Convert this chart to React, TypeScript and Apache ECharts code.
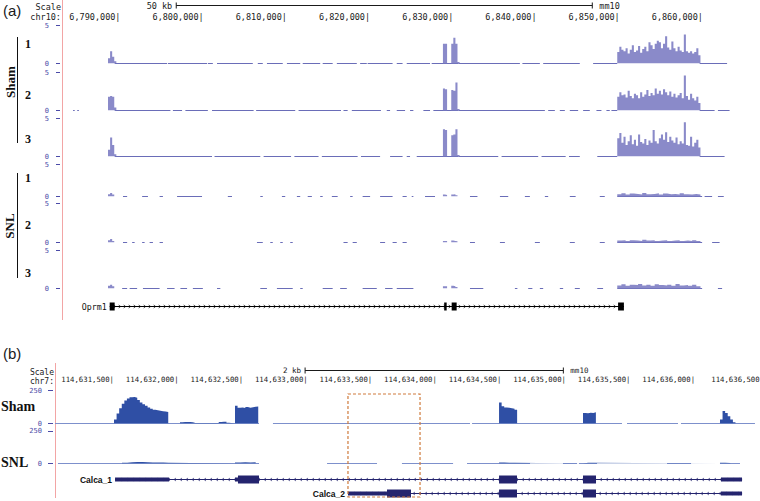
import React, { useEffect, useRef } from "react";
import * as echarts from "echarts";

// ================= Panel (a): chr10, positions in kb =================
const A_MIN = 6782.97;
const A_MAX = 6863.25;
const A_TICKS = [6790, 6800, 6810, 6820, 6830, 6840, 6850, 6860];
const A_SCALE_BAR = [6796.7, 6846.7]; // 50 kb
const A_Y_MAX = 5;

const A_PEAK1_START = 6788.5;
const A_PEAKS_START = 6828.75;
const A_BROAD_START = 6849.7;
const A_BIN = 0.25;
const A_SNL_BIN = 0.5;

const sham1Peak1 = [0.7, 1.6, 0.9, 0.3];
const sham2Peak1 = [1.8, 1.9, 1.8, 0.4];
const sham3Peak1 = [0.9, 2.5, 1.5, 0.3];

const sham1Peaks = [2.6, 2.6, 0, 0, 2.6, 3.4, 2.6, 0.2];
const sham2Peaks = [2.9, 2.8, 0, 0, 2.7, 2.6, 3.7, 0.2];
const sham3Peaks = [3.6, 3.5, 0, 0, 2.8, 2.9, 3.6, 0.2];

const sham1Broad = [1.5, 2.2, 1.8, 1.6, 2.0, 1.3, 1.8, 2.4, 1.5, 1.7, 2.3, 1.4, 1.9, 2.2, 1.6, 2.8, 2.4, 1.9, 2.6, 3.0, 2.8, 2.0, 2.6, 3.6, 2.1, 1.8, 2.9, 2.0, 1.6, 2.2, 1.7, 1.5, 3.8, 1.6, 1.4, 1.6, 1.3, 1.5, 2.0, 1.1];
const sham2Broad = [1.8, 2.4, 2.0, 2.1, 1.7, 2.6, 1.9, 1.6, 2.2, 2.0, 1.6, 2.4, 1.8, 2.1, 2.7, 1.9, 2.3, 2.0, 2.9, 2.2, 2.6, 2.1, 2.8, 2.4, 2.0, 2.5, 1.8, 2.2, 1.7, 2.0, 2.3, 1.6, 4.6, 1.9, 1.4, 2.2, 1.6, 1.3, 1.8, 1.0];
const sham3Broad = [2.4, 3.1, 1.8, 2.6, 1.5, 2.0, 2.8, 1.6, 2.2, 1.4, 2.9, 1.9, 1.7, 2.3, 1.5, 2.1, 1.8, 3.5, 2.0, 1.7, 2.4, 2.9, 2.2, 3.2, 1.9, 2.6, 2.1, 1.8, 2.5, 1.6, 2.0, 1.7, 4.5, 1.5, 1.4, 2.6, 1.3, 1.8, 2.2, 1.2];

const snl1Peak1 = [0.35, 0.55, 0.3];
const snl2Peak1 = [0.3, 0.45, 0.2];
const snl3Peak1 = [0.35, 0.5, 0.3];

const snl1Peaks = [0.3, 0.25, 0, 0, 0.3, 0.35, 0.2];
const snl2Peaks = [0.2, 0.2, 0, 0, 0.25, 0.2, 0.15];
const snl3Peaks = [0.3, 0.3, 0, 0, 0.35, 0.3, 0.2];

const snl1Broad = [0.35, 0.5, 0.3, 0.45, 0.4, 0.3, 0.55, 0.35, 0.4, 0.5, 0.3, 0.45, 0.35, 0.4, 0.3, 0.5, 0.35, 0.3, 0.4, 0.3];
const snl2Broad = [0.25, 0.3, 0.2, 0.3, 0.25, 0.2, 0.35, 0.25, 0.3, 0.2, 0.25, 0.3, 0.2, 0.25, 0.3, 0.2, 0.25, 0.2, 0.3, 0.2];
const snl3Broad = [0.4, 0.55, 0.35, 0.5, 0.45, 0.6, 0.4, 0.5, 0.35, 0.55, 0.45, 0.4, 0.5, 0.35, 0.6, 0.4, 0.45, 0.35, 0.5, 0.3];

// low-coverage stretches (drawn as the thin baseline), [start, end] kb
const sham1Base = [[6789.3, 6795.6], [6795.7, 6800.4], [6800.5, 6801.1], [6801.6, 6805.9], [6806.5, 6807.1], [6807.6, 6809.5], [6810.0, 6811.6], [6811.9, 6814.0], [6814.3, 6815.5], [6816.0, 6818.4], [6818.8, 6819.6], [6819.7, 6822.7], [6823.2, 6823.9], [6824.4, 6827.2], [6827.4, 6830.6], [6830.6, 6838.0], [6838.3, 6840.4], [6840.8, 6845.2], [6846.8, 6849.7], [6859.6, 6862.9]];
const sham2Base = [[6784.3, 6784.5], [6784.8, 6785.0], [6789.3, 6796.0], [6796.3, 6797.4], [6797.8, 6800.5], [6801.0, 6806.0], [6806.3, 6811.0], [6811.4, 6816.5], [6816.8, 6817.3], [6817.8, 6821.3], [6822.0, 6822.4], [6823.2, 6824.2], [6824.8, 6825.2], [6826.4, 6827.2], [6827.6, 6830.6], [6830.6, 6841.0], [6841.4, 6842.2], [6842.8, 6843.4], [6844.0, 6845.0], [6845.6, 6846.4], [6847.2, 6847.8], [6848.4, 6848.8], [6849.0, 6849.7], [6859.6, 6861.4], [6861.8, 6863.2]];
const sham3Base = [[6789.3, 6801.0], [6801.3, 6806.8], [6807.2, 6810.5], [6810.9, 6813.8], [6814.2, 6818.5], [6818.9, 6821.2], [6822.4, 6823.9], [6824.4, 6824.8], [6825.6, 6830.6], [6830.6, 6835.4], [6835.8, 6840.2], [6840.6, 6843.5], [6843.9, 6845.2], [6847.3, 6849.7], [6859.6, 6862.6]];
const snl1Base = [[6790.3, 6790.8], [6792.6, 6793.3], [6794.7, 6795.1], [6796.8, 6799.8], [6802.9, 6803.4], [6806.8, 6807.1], [6809.4, 6809.8], [6811.2, 6811.6], [6812.5, 6813.0], [6814.0, 6814.3], [6815.4, 6816.1], [6817.6, 6817.9], [6819.1, 6820.0], [6821.2, 6822.7], [6823.9, 6824.4], [6825.0, 6825.2], [6826.6, 6827.8], [6832.0, 6832.9], [6835.6, 6836.6], [6838.6, 6839.2], [6841.0, 6841.4], [6844.0, 6844.7], [6847.6, 6848.2], [6849.7, 6859.9], [6860.2, 6861.1], [6861.8, 6862.5]];
const snl2Base = [[6790.3, 6790.8], [6791.4, 6791.7], [6792.6, 6792.9], [6793.5, 6793.9], [6794.7, 6795.1], [6806.4, 6807.1], [6808.0, 6808.3], [6809.2, 6809.5], [6810.4, 6810.7], [6816.8, 6817.3], [6817.9, 6818.4], [6821.2, 6821.8], [6822.7, 6823.2], [6823.9, 6824.4], [6832.0, 6832.6], [6835.6, 6836.2], [6839.8, 6840.4], [6844.0, 6844.6], [6847.6, 6848.2], [6849.7, 6859.9], [6861.1, 6862.0]];
const snl3Base = [[6790.2, 6790.8], [6791.1, 6792.0], [6792.7, 6794.7], [6795.6, 6796.5], [6797.2, 6798.0], [6798.7, 6799.9], [6801.6, 6802.0], [6806.8, 6807.6], [6808.8, 6810.7], [6811.6, 6811.9], [6814.3, 6815.5], [6816.4, 6817.2], [6819.1, 6820.8], [6821.8, 6822.7], [6823.2, 6825.2], [6832.0, 6833.6], [6837.4, 6837.7], [6839.0, 6839.5], [6840.4, 6840.8], [6842.8, 6843.2], [6844.6, 6845.2], [6847.3, 6848.0], [6849.7, 6859.9], [6861.8, 6862.3]];

// gene model: [start, end, thick(1)/thin(0)]
const oprm1Exons = [[6788.7, 6789.3, 1], [6828.9, 6829.2, 1], [6829.8, 6830.4, 1], [6849.8, 6850.5, 1]];

// ================= Panel (b): chr7, positions in kb =================
const B_MIN = 114631.043;
const B_MAX = 114636.503;
const B_TICKS = [114631.5, 114632, 114632.5, 114633, 114633.5, 114634, 114634.5, 114635, 114635.5, 114636, 114636.5];
const B_SCALE_BAR = [114632.98, 114634.98]; // 2 kb
const B_Y_MAX = 250;
const B_BIN = 0.02;
const B_SNL_BIN = 0.04;
const B_HIGHLIGHT = [114633.312, 114633.87];

const shamBPeak1 = [30, 75, 115, 150, 175, 190, 198, 200, 195, 178, 160, 145, 135, 122, 112, 105, 100, 96, 92, 90, 88];
const shamBLow = [10, 12, 11, 12, 9, 4, 3, 3, 4, 3, 3, 4, 3, 4, 3, 12, 14, 13, 5];
const shamBExon2 = [135, 120, 122, 118, 125, 120, 123, 126, 128];
const shamBExon3 = [160, 130, 122, 120, 115, 112, 105];
const shamBExon4 = [80, 78, 82, 80, 85];
const shamBExon5 = [30, 95, 80, 55, 30, 10];

const snlBPeak1 = [6, 10, 11, 11, 10, 8, 7, 8, 5];
const snlBExon2 = [8, 9, 8, 9];
const snlBExon3 = [8, 6, 5];
const snlBExon4 = [5, 5];
const snlBExon5 = [6, 4];

const shamBBase = [[114631.043, 114632.623], [114632.731, 114634.257], [114634.273, 114635.434], [114635.473, 114635.868], [114635.891, 114636.464]];
const snlBBase = [[114631.066, 114632.623], [114633.15, 114633.537], [114633.73, 114634.126], [114634.234, 114634.722], [114634.977, 114635.086], [114635.101, 114635.241], [114635.783, 114635.969], [114636.193, 114636.348]];

const calca1Exons = [[114631.508, 114631.926, 0], [114632.437, 114632.46, 0], [114632.46, 114632.623, 1], [114634.482, 114634.621, 1], [114635.132, 114635.233, 1], [114636.201, 114636.364, 0]];
const calca2Exons = [[114633.312, 114633.614, 0], [114633.614, 114633.8, 1], [114634.482, 114634.621, 1], [114635.132, 114635.233, 1], [114636.201, 114636.364, 0]];

// ================= styling =================
const MONO = '"DejaVu Sans Mono", "Liberation Mono", monospace';
const SERIF = '"Liberation Serif", "DejaVu Serif", serif';
const SANS = '"Liberation Sans", Arial, sans-serif';
const Y_LABEL_COLOR = "#4b4ba8";
const A_FILL = "#8a8ac9";
const A_BASE = "#6a6db8";
const B_FILL = "#2f4fa5";
const B_BASE = "#7d90cc";
const B_GENE = "#24246e";
const PINK = "#f2a5a5";

type Region = [number, number, number[]];

function covData(regions: Region[]) {
  const out: number[][] = [];
  for (const [start, bin, vals] of regions) {
    vals.forEach((v, i) => out.push([start + i * bin, v]));
    out.push([start + vals.length * bin, 0]);
  }
  return out;
}

function txt(text: string, x: number, y: number, o: any = {}) {
  const align = o.align || "left";
  return {
    type: "text",
    x,
    y,
    rotation: o.rotation || 0,
    silent: true,
    style: {
      text,
      fill: o.fill || "#1a1a1a",
      fontSize: o.size || 8.5,
      fontFamily: o.family || MONO,
      fontWeight: o.weight || "normal",
      align,
      verticalAlign: "middle",
      textAlign: align,
      textVerticalAlign: "middle",
    },
  };
}

function buildOption() {
  const grid: any[] = [];
  const xAxis: any[] = [];
  const yAxis: any[] = [];
  const series: any[] = [];

  const add = (g: any, x: any, y: any) => {
    const i = grid.length;
    grid.push({ ...g, outerBoundsMode: "none", containLabel: false });
    xAxis.push({ ...x, gridIndex: i });
    yAxis.push({ ...y, gridIndex: i });
    return i;
  };

  const hiddenX = (min: number, max: number) => ({ type: "value", min, max, show: false });
  const hiddenY = (max: number, inverse = false) => ({ type: "value", min: 0, max, inverse, show: false });
  const labelX = (min: number, max: number, ticks: number[], fmt: any, size: number, margin: number) => ({
    type: "value",
    min,
    max,
    position: "bottom",
    axisLine: { show: false },
    axisTick: { show: false },
    splitLine: { show: false },
    axisLabel: { customValues: ticks, formatter: fmt, align: "right", margin, fontFamily: MONO, fontSize: size, color: "#1a1a1a" },
  });
  const trackY = (max: number, tick: number, size: number) => ({
    type: "value",
    min: 0,
    max,
    interval: max,
    offset: 2,
    axisLine: { show: false },
    splitLine: { show: false },
    axisTick: { show: true, length: tick, lineStyle: { color: Y_LABEL_COLOR, width: 1 } },
    axisLabel: { margin: 11, fontFamily: MONO, fontSize: size, color: Y_LABEL_COLOR, padding: [0, 0, 3, 0], showMinLabel: true, showMaxLabel: true },
  });

  const covSeries = (i: number, regions: Region[], color: string) => ({
    type: "line",
    xAxisIndex: i,
    yAxisIndex: i,
    data: covData(regions),
    step: "end",
    showSymbol: false,
    symbol: "none",
    lineStyle: { width: 0, color },
    areaStyle: { color, opacity: 1 },
    silent: true,
    z: 3,
  });
  const baseSeries = (i: number, segs: number[][], color: string) => ({
    type: "lines",
    coordinateSystem: "cartesian2d",
    xAxisIndex: i,
    yAxisIndex: i,
    data: segs.map(([s, e]) => ({ coords: [[s, 0], [e, 0]] })),
    lineStyle: { color, width: 1, opacity: 1 },
    silent: true,
    z: 2,
  });
  const scaleBar = (i: number, bar: number[], label: string, size: number) => ({
    type: "custom",
    xAxisIndex: i,
    yAxisIndex: i,
    clip: false,
    silent: true,
    data: [[bar[0], bar[1]]],
    encode: { x: [0, 1] },
    renderItem: (params: any, api: any) => {
      const a = api.coord([api.value(0), 0.5]);
      const b = api.coord([api.value(1), 0.5]);
      const y = Math.round(a[1]) + 0.5;
      const st = { stroke: "#1a1a1a", lineWidth: 1 };
      return {
        type: "group",
        children: [
          { type: "line", shape: { x1: a[0], y1: y, x2: b[0], y2: y }, style: st },
          { type: "line", shape: { x1: a[0], y1: y - 3, x2: a[0], y2: y + 3 }, style: st },
          { type: "line", shape: { x1: b[0], y1: y - 3, x2: b[0], y2: y + 3 }, style: st },
          txt(label, a[0] - 4, y, { align: "right", size }),
          txt("mm10", b[0] + 7, y, { size }),
        ],
      };
    },
  });
  const geneSeries = (i: number, genes: any[], color: string, o: any) => ({
    type: "custom",
    xAxisIndex: i,
    yAxisIndex: i,
    clip: false,
    silent: true,
    data: genes.map((g, k) => [g.exons[0][0], g.exons[g.exons.length - 1][1], k]),
    encode: { x: [0, 1], y: 2 },
    renderItem: (params: any, api: any) => {
      const g = genes[params.dataIndex];
      const row = api.value(2) + 0.5;
      const p0 = api.coord([api.value(0), row]);
      const p1 = api.coord([api.value(1), row]);
      const yc = Math.round(p0[1]) + 0.5;
      const children: any[] = [];
      children.push({ type: "line", shape: { x1: p0[0], y1: yc, x2: p1[0], y2: yc }, style: { stroke: color, lineWidth: 1 } });
      for (let x = p0[0] + o.gap; x < p1[0] - 2; x += o.gap) {
        const d = g.strand;
        children.push({
          type: "polyline",
          shape: { points: [[x - 1 * d, yc - 1.5], [x + 1 * d, yc], [x - 1 * d, yc + 1.5]] },
          style: { stroke: color, fill: "none", lineWidth: 0.7 },
        });
      }
      for (const [s, e, thick] of g.exons) {
        const xs = api.coord([s, row])[0];
        const xe = api.coord([e, row])[0];
        const h = thick ? o.thick : o.thin;
        children.push({ type: "rect", shape: { x: xs, y: yc - h / 2, width: Math.max(xe - xs, 1.5), height: h }, style: { fill: color } });
      }
      children.push(txt(g.name, p0[0] - 3, yc, { align: "right", size: o.labelSize, family: o.labelFamily, weight: o.labelWeight, fill: "#111" }));
      return { type: "group", children };
    },
  });

  // ---------- panel (a) ----------
  const fmtA = (v: number) => Math.round(v * 1000).toLocaleString("en-US") + "|";
  const hA = add({ left: 62, width: 668, top: 1, height: 8 }, labelX(A_MIN, A_MAX, A_TICKS, fmtA, 8.5, 3), hiddenY(1));
  series.push(scaleBar(hA, A_SCALE_BAR, "50 kb", 8.5));

  const aTracks = [
    { base: sham1Base, cov: [[A_PEAK1_START, A_BIN, sham1Peak1], [A_PEAKS_START, A_BIN, sham1Peaks], [A_BROAD_START, A_BIN, sham1Broad]] },
    { base: sham2Base, cov: [[A_PEAK1_START, A_BIN, sham2Peak1], [A_PEAKS_START, A_BIN, sham2Peaks], [A_BROAD_START, A_BIN, sham2Broad]] },
    { base: sham3Base, cov: [[A_PEAK1_START, A_BIN, sham3Peak1], [A_PEAKS_START, A_BIN, sham3Peaks], [A_BROAD_START, A_BIN, sham3Broad]] },
    { base: snl1Base, cov: [[A_PEAK1_START, A_BIN, snl1Peak1], [A_PEAKS_START, A_BIN, snl1Peaks], [A_BROAD_START, A_SNL_BIN, snl1Broad]] },
    { base: snl2Base, cov: [[A_PEAK1_START, A_BIN, snl2Peak1], [A_PEAKS_START, A_BIN, snl2Peaks], [A_BROAD_START, A_SNL_BIN, snl2Broad]] },
    { base: snl3Base, cov: [[A_PEAK1_START, A_BIN, snl3Peak1], [A_PEAKS_START, A_BIN, snl3Peaks], [A_BROAD_START, A_SNL_BIN, snl3Broad]] },
  ];
  const aTops = [25.5, 72.5, 118.5, 164.5, 203.5, 250.5];
  const aHeights = [38, 38, 38, 32, 39, 38];
  aTracks.forEach((t, k) => {
    const i = add({ left: 62, width: 668, top: aTops[k], height: aHeights[k] }, hiddenX(A_MIN, A_MAX), trackY(A_Y_MAX, 4, 7));
    series.push(baseSeries(i, t.base, A_BASE));
    series.push(covSeries(i, t.cov as Region[], A_FILL));
  });

  const gA = add({ left: 62, width: 668, top: 300, height: 12 }, hiddenX(A_MIN, A_MAX), hiddenY(1));
  series.push(
    geneSeries(gA, [{ name: "Oprm1", exons: oprm1Exons, strand: 1 }], "#000", {
      gap: 5, thick: 8, thin: 4, labelSize: 8.3, labelFamily: MONO, labelWeight: "normal",
    })
  );

  // ---------- panel (b) ----------
  const fmtB = (v: number) => Math.round(v * 1000).toLocaleString("en-US") + (v >= 114636.5 ? "" : "|");
  const hB = add({ left: 55, width: 705, top: 366, height: 8 }, labelX(B_MIN, B_MAX, B_TICKS, fmtB, 7.3, 2), hiddenY(1));
  series.push(scaleBar(hB, B_SCALE_BAR, "2 kb", 7.5));

  const sB = add({ left: 55, width: 705, top: 390.5, height: 33 }, hiddenX(B_MIN, B_MAX), trackY(B_Y_MAX, 5, 7));
  series.push(baseSeries(sB, shamBBase, B_BASE));
  series.push(
    covSeries(sB, [
      [114631.5, B_BIN, shamBPeak1],
      [114632.011, B_BIN, shamBLow],
      [114632.437, B_BIN, shamBExon2],
      [114634.482, B_BIN, shamBExon3],
      [114635.132, B_BIN, shamBExon4],
      [114636.193, B_BIN, shamBExon5],
    ], B_FILL)
  );
  const nB = add({ left: 55, width: 705, top: 431, height: 32.5 }, hiddenX(B_MIN, B_MAX), trackY(B_Y_MAX, 5, 7));
  series.push(baseSeries(nB, snlBBase, B_BASE));
  series.push(
    covSeries(nB, [
      [114631.562, B_SNL_BIN, snlBPeak1],
      [114632.437, B_SNL_BIN, snlBExon2],
      [114634.482, B_SNL_BIN, snlBExon3],
      [114635.132, B_SNL_BIN, snlBExon4],
      [114636.193, B_SNL_BIN, snlBExon5],
    ], B_FILL)
  );

  const gB = add({ left: 55, width: 705, top: 472, height: 28 }, hiddenX(B_MIN, B_MAX), hiddenY(2, true));
  series.push(
    geneSeries(gB, [
      { name: "Calca_1", exons: calca1Exons, strand: -1 },
      { name: "Calca_2", exons: calca2Exons, strand: -1 },
    ], B_GENE, { gap: 6, thick: 8, thin: 4, labelSize: 8.5, labelFamily: SANS, labelWeight: "bold" })
  );
  // highlighted region (dashed box)
  series.push({
    type: "custom",
    xAxisIndex: gB,
    yAxisIndex: gB,
    clip: false,
    silent: true,
    z: 10,
    data: [[B_HIGHLIGHT[0], B_HIGHLIGHT[1]]],
    encode: { x: [0, 1] },
    renderItem: (params: any, api: any) => {
      const a = api.coord([api.value(0), 0]);
      const b = api.coord([api.value(1), 0]);
      return {
        type: "rect",
        shape: { x: a[0], y: 394, width: b[0] - a[0], height: 103 },
        style: { fill: "none", stroke: "#cf7a3c", lineWidth: 1.2, lineDash: [3, 2] },
      };
    },
  });

  const graphic: any[] = [
    // pink separators
    { type: "line", silent: true, shape: { x1: 62.5, y1: 0, x2: 62.5, y2: 320 }, style: { stroke: PINK, lineWidth: 1 } },
    { type: "line", silent: true, shape: { x1: 55.5, y1: 363, x2: 55.5, y2: 498 }, style: { stroke: PINK, lineWidth: 1 } },
    // panel letters
    txt("(a)", 3, 10, { family: SANS, size: 15 }),
    txt("(b)", 3, 353, { family: SANS, size: 15 }),
    // header labels
    txt("Scale", 61, 7, { align: "right", size: 8.5 }),
    txt("chr10:", 61, 17, { align: "right", size: 8.5 }),
    txt("Scale", 54, 372, { align: "right", size: 8 }),
    txt("chr7:", 54, 381, { align: "right", size: 8 }),
    // group brackets (a)
    { type: "line", silent: true, shape: { x1: 17.5, y1: 37, x2: 17.5, y2: 143 }, style: { stroke: "#111", lineWidth: 1 } },
    { type: "line", silent: true, shape: { x1: 17.5, y1: 173, x2: 17.5, y2: 278 }, style: { stroke: "#111", lineWidth: 1 } },
    txt("Sham", 10, 82, { family: SERIF, size: 13, weight: "bold", align: "center", rotation: Math.PI / 2, fill: "#111" }),
    txt("SNL", 9, 226, { family: SERIF, size: 13, weight: "bold", align: "center", rotation: Math.PI / 2, fill: "#111" }),
    txt("1", 28, 44, { family: SERIF, size: 12, weight: "bold", align: "center", fill: "#111" }),
    txt("2", 28, 95, { family: SERIF, size: 12, weight: "bold", align: "center", fill: "#111" }),
    txt("3", 28, 139, { family: SERIF, size: 12, weight: "bold", align: "center", fill: "#111" }),
    txt("1", 28, 178, { family: SERIF, size: 12, weight: "bold", align: "center", fill: "#111" }),
    txt("2", 28, 225, { family: SERIF, size: 12, weight: "bold", align: "center", fill: "#111" }),
    txt("3", 28, 273, { family: SERIF, size: 12, weight: "bold", align: "center", fill: "#111" }),
    // group labels (b)
    txt("Sham", 1, 406, { family: SERIF, size: 14, weight: "bold", fill: "#111" }),
    txt("SNL", 1, 462, { family: SERIF, size: 14, weight: "bold", fill: "#111" }),
  ];

  return {
    animation: false,
    backgroundColor: "#ffffff",
    tooltip: { show: false },
    grid,
    xAxis,
    yAxis,
    series,
    graphic,
  };
}

export default function App() {
  const ref = useRef<HTMLDivElement>(null);
  useEffect(() => {
    document.body.style.margin = "0";
    if (!ref.current) return;
    const chart = echarts.init(ref.current, null, { renderer: "svg" });
    chart.setOption(buildOption() as any);
    return () => chart.dispose();
  }, []);
  return (
    <div style={{ position: "fixed", left: 0, top: 0, width: 760, height: 501, background: "#fff" }}>
      <div ref={ref} style={{ width: 760, height: 501 }} />
    </div>
  );
}
